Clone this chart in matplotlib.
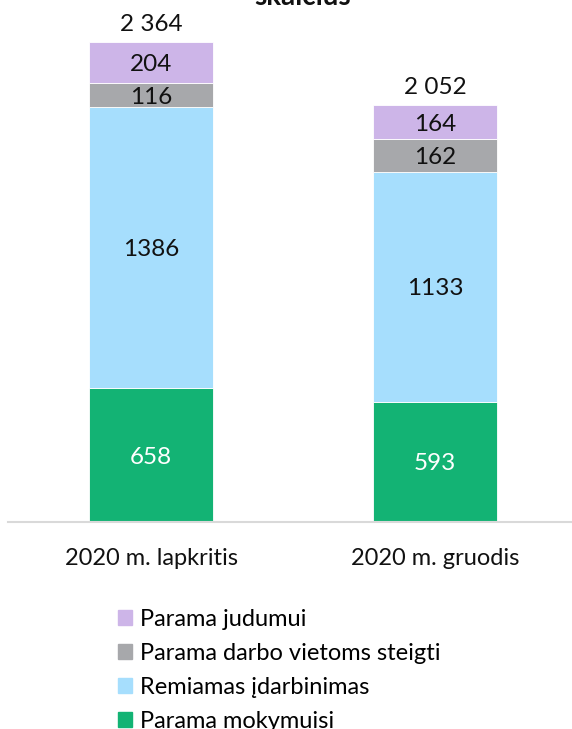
import matplotlib.pyplot as plt
import numpy as np
from matplotlib.patches import Patch

plt.rcParams['font.family'] = ['Lato', 'DejaVu Sans']

categories = ["2020 m. lapkritis", "2020 m. gruodis"]
series_names = ["Parama mokymuisi", "Remiamas įdarbinimas",
                "Parama darbo vietoms steigti", "Parama judumui"]
mokymuisi = [658, 593]
idarbinimas = [1386, 1133]
steigti = [116, 162]
judumui = [204, 164]
totals_txt = ["2 364", "2 052"]

colors = ["#13B374", "#A6DEFD", "#A7A8AB", "#CDB5E8"]
text_colors = ["white", "#111111", "#111111", "#111111"]

fig = plt.figure(figsize=(5.72, 7.29), dpi=100)
ax = fig.add_axes([8/572, 207/729, 564/572, 522/729])

x = np.arange(len(categories))
bottom = np.zeros(len(categories))
for vals, c, tc in zip([mokymuisi, idarbinimas, steigti, judumui], colors, text_colors):
    vals = np.array(vals)
    ax.bar(x, vals, width=0.437, bottom=bottom, color=c, edgecolor="white", linewidth=0.6)
    for xi, b, v in zip(x, bottom, vals):
        ax.text(xi, b + v / 2, str(v), ha="center", va="center_baseline",
                fontsize=17.5, color=tc)
    bottom = bottom + vals

for xi, tot, t in zip(x, bottom, totals_txt):
    ax.text(xi, tot + 35, t, ha="center", va="bottom", fontsize=17.5, color="#111111")

ax.set_xlim(-0.504, 1.482)
ax.set_ylim(0, 2571)
ax.set_yticks([])
ax.set_xticks(x)
ax.set_xticklabels(categories, fontsize=17, color="#111111")
ax.tick_params(axis="x", length=0, pad=19)
for s in ["top", "right", "left"]:
    ax.spines[s].set_visible(False)
ax.spines["bottom"].set_color("#D9D9D9")
ax.spines["bottom"].set_linewidth(1.5)

# title cut off at the top of the picture
fig.text(303/572, 1 - 5/729, "skaičius", ha="center", va="baseline", fontsize=20,
         fontweight="bold", color="#111111")

handles = [Patch(color=c) for c in colors[::-1]]
fig.legend(handles, series_names[::-1], loc="upper left",
           bbox_to_anchor=(106/572, 1 - 597/729), frameon=False, fontsize=17,
           handlelength=0.6, handleheight=0.6, handletextpad=0.35,
           labelspacing=0.55, borderpad=0)

fig.savefig("out.png", dpi=100)
